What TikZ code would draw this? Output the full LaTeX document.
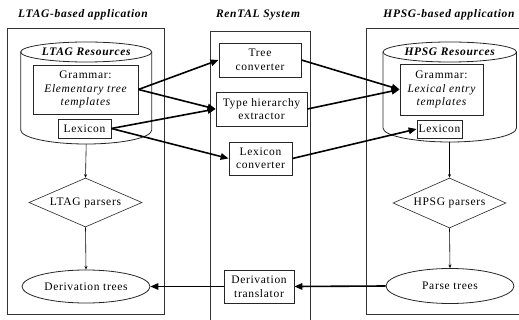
\documentclass[tikz,border=0pt]{standalone}
\usepackage{fontspec}
\setmainfont{Liberation Serif}[LetterSpace=6]
\usetikzlibrary{shapes.geometric,arrows.meta}
\begin{document}
\begin{tikzpicture}[x=1pt,y=-1pt,
  every node/.style={font=\fontsize{11.5}{13.5}\selectfont, align=center, inner sep=0pt},
  panel/.style={draw=black!80, line width=0.8pt},
  box/.style={draw=black!85, line width=0.8pt, rectangle},
  title/.style={font=\fontsize{11.5}{13.5}\selectfont\bfseries\itshape},
  thick arrow/.style={line width=1.6pt, -{Triangle[length=8pt,width=6.5pt]}},
  thin arrow/.style={line width=0.6pt, -{Stealth[length=3.5pt,width=3pt]}},
  cyl/.style={draw=black!85, line width=0.8pt}
]
\useasboundingbox (0,0) rectangle (519,320);
% panels
\draw[panel] (7,28.5) rectangle (164,314);
\draw[panel] (210.7,31) rectangle (310.7,330);
\draw[panel] (366,28.5) rectangle (530,314);
% titles
\node[title] (tl) at (83,15) {LTAG-based application};
\node[title] (tm) at (258,15) {RenTAL System};
\node[title] (tr) at (449,15) {HPSG-based application};
% left cylinder
\draw[cyl] (20.7,52) -- (20.7,130) arc[start angle=180,end angle=0,x radius=65.5,y radius=14] -- (151.7,52);
\draw[cyl] (86.2,52) ellipse[x radius=65.5,y radius=10];
\coordinate (lcb) at (86.2,144);
\node[title] (lres) at (86.2,52) {LTAG Resources};
% right cylinder
\draw[cyl] (383,52) -- (383,128) arc[start angle=180,end angle=0,x radius=66.75,y radius=14] -- (516.5,52);
\draw[cyl] (449.75,52) ellipse[x radius=66.75,y radius=10];
\coordinate (rcb) at (449.5,142);
\node[title] (rres) at (449.75,52) {HPSG Resources};
% left resources
\node[box, minimum width=105pt, minimum height=49pt] (gl) at (85.5,89.5) {Grammar:\\\itshape Elementary tree\\\itshape templates};
\node[box, minimum width=53pt, minimum height=19pt] (ll) at (84.5,128.5) {Lexicon};
% right resources
\node[box, minimum width=83pt, minimum height=51pt] (gr) at (441.5,89.5) {Grammar:\\\itshape Lexical entry\\\itshape templates};
\node[box, minimum width=45pt, minimum height=18pt] (lr) at (439.5,129) {Lexicon};
% middle
\node[box, minimum width=82pt, minimum height=34pt] (tc) at (260,60) {Tree\\converter};
\node[box, minimum width=91pt, minimum height=34pt] (th) at (261.5,109) {Type hierarchy\\extractor};
\node[box, minimum width=63pt, minimum height=33pt] (lc) at (260.5,158.5) {Lexicon\\converter};
\node[box, minimum width=70pt, minimum height=33pt] (dt) at (259,286.5) {Derivation\\translator};
% parsers
\node[diamond, draw=black!85, line width=0.6pt, minimum width=113pt, minimum height=49pt, label={center:LTAG parsers}] (lp) at (85.5,202.5) {};
\node[diamond, draw=black!85, line width=0.6pt, minimum width=113pt, minimum height=50pt, label={center:HPSG parsers}] (hp) at (449.5,203) {};
% result ellipses
\node[ellipse, draw=black!85, line width=0.8pt, minimum width=128pt, minimum height=33pt] (ldt) at (86,286.5) {Derivation trees};
\node[ellipse, draw=black!85, line width=0.8pt, minimum width=128pt, minimum height=35pt] (pt) at (450,286) {Parse trees};
% thin arrows
\draw[thin arrow] (lcb) -- (lp.north);
\draw[thin arrow] (lp.south) -- (ldt.north);
\draw[thin arrow] (rcb) -- (hp.north);
\draw[thin arrow] (hp.south) -- (pt.north);
% thick arrows
\draw[thick arrow] (gl.east) -- (tc.west);
\draw[thick arrow] (gl.east) -- (th.west);
\draw[thick arrow] (ll.east) -- (th.west);
\draw[thick arrow] (ll.east) -- (lc.west);
\draw[thick arrow] (tc.east) -- (gr.west);
\draw[thick arrow] (th.east) -- (gr.west);
\draw[thick arrow] (lc.east) -- (lr.west);
\draw[thick arrow] (pt.west) -- (dt.east);
\draw[thick arrow] (dt.west) -- (ldt.east);
\end{tikzpicture}
\end{document}
